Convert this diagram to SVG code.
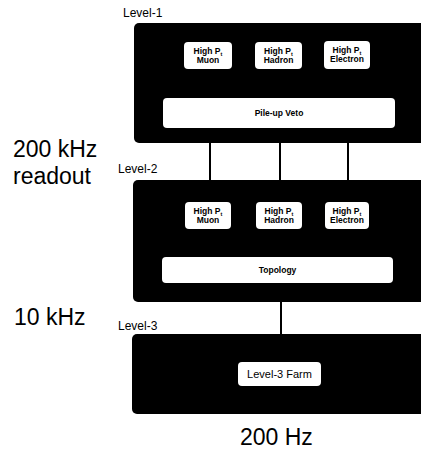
<svg xmlns="http://www.w3.org/2000/svg" width="421" height="450" viewBox="0 0 421 450">
<style>
.lvl{fill:#000;}
.sub{fill:#fff;}
.t{font-family:"Liberation Sans",Arial,sans-serif;fill:#000;}
.s{font-size:8.5px;text-anchor:middle;font-weight:bold;}
.lab{font-size:12px;}
.big{font-size:23px;}
.wire{stroke:#000;stroke-width:2;fill:none;}
</style>
<rect width="421" height="450" fill="#fff"/>
<text class="t big" x="13" y="157">200 kHz</text>
<text class="t big" x="13" y="184">readout</text>
<text class="t big" x="14" y="325">10 kHz</text>
<text class="t big" x="240" y="445">200 Hz</text>
<g id="connectors">
<line class="wire" x1="210" y1="140" x2="210" y2="184"/>
<line class="wire" x1="280" y1="140" x2="280" y2="184"/>
<line class="wire" x1="348" y1="140" x2="348" y2="184"/>
<line class="wire" x1="281" y1="298" x2="281" y2="338"/>
</g>
<g id="level1">
<text class="t lab" x="123" y="17">Level-1</text>
<rect class="lvl" x="134" y="23" width="295" height="120" rx="5"/>
<g id="l1-muon"><rect class="sub" x="184" y="42" width="48" height="27" rx="4"/>
<text class="t s" x="208" y="54">High P<tspan font-size="5.5" dy="1.5">t</tspan></text><text class="t s" x="208" y="63">Muon</text></g>
<g id="l1-hadron"><rect class="sub" x="255" y="42" width="47" height="27" rx="4"/>
<text class="t s" x="278.5" y="54">High P<tspan font-size="5.5" dy="1.5">t</tspan></text><text class="t s" x="278.5" y="63">Hadron</text></g>
<g id="l1-electron"><rect class="sub" x="324" y="41" width="46" height="28" rx="4"/>
<text class="t s" x="347" y="53">High P<tspan font-size="5.5" dy="1.5">t</tspan></text><text class="t s" x="347" y="62">Electron</text></g>
<g id="l1-veto"><rect class="sub" x="163" y="98" width="232" height="30" rx="4"/>
<text class="t s" x="279" y="116">Pile-up Veto</text></g>
</g>
<g id="level2">
<text class="t lab" x="118" y="173">Level-2</text>
<rect class="lvl" x="133" y="180" width="296" height="122" rx="5"/>
<g id="l2-muon"><rect class="sub" x="185" y="202" width="46" height="27" rx="4"/>
<text class="t s" x="208" y="214">High P<tspan font-size="5.5" dy="1.5">t</tspan></text><text class="t s" x="208" y="223">Muon</text></g>
<g id="l2-hadron"><rect class="sub" x="256" y="202" width="46" height="27" rx="4"/>
<text class="t s" x="279" y="214">High P<tspan font-size="5.5" dy="1.5">t</tspan></text><text class="t s" x="279" y="223">Hadron</text></g>
<g id="l2-electron"><rect class="sub" x="325" y="202" width="44" height="27" rx="4"/>
<text class="t s" x="347" y="214">High P<tspan font-size="5.5" dy="1.5">t</tspan></text><text class="t s" x="347" y="223">Electron</text></g>
<g id="l2-topology"><rect class="sub" x="162" y="257" width="231" height="26" rx="4"/>
<text class="t s" x="277.5" y="273">Topology</text></g>
</g>
<g id="level3">
<text class="t lab" x="118" y="330">Level-3</text>
<rect class="lvl" x="132" y="334" width="297" height="80" rx="5"/>
<g id="l3-farm"><rect class="sub" x="238" y="362" width="83" height="24" rx="4"/>
<text class="t" x="279.5" y="378" font-size="11" text-anchor="middle">Level-3 Farm</text></g>
</g>
</svg>
